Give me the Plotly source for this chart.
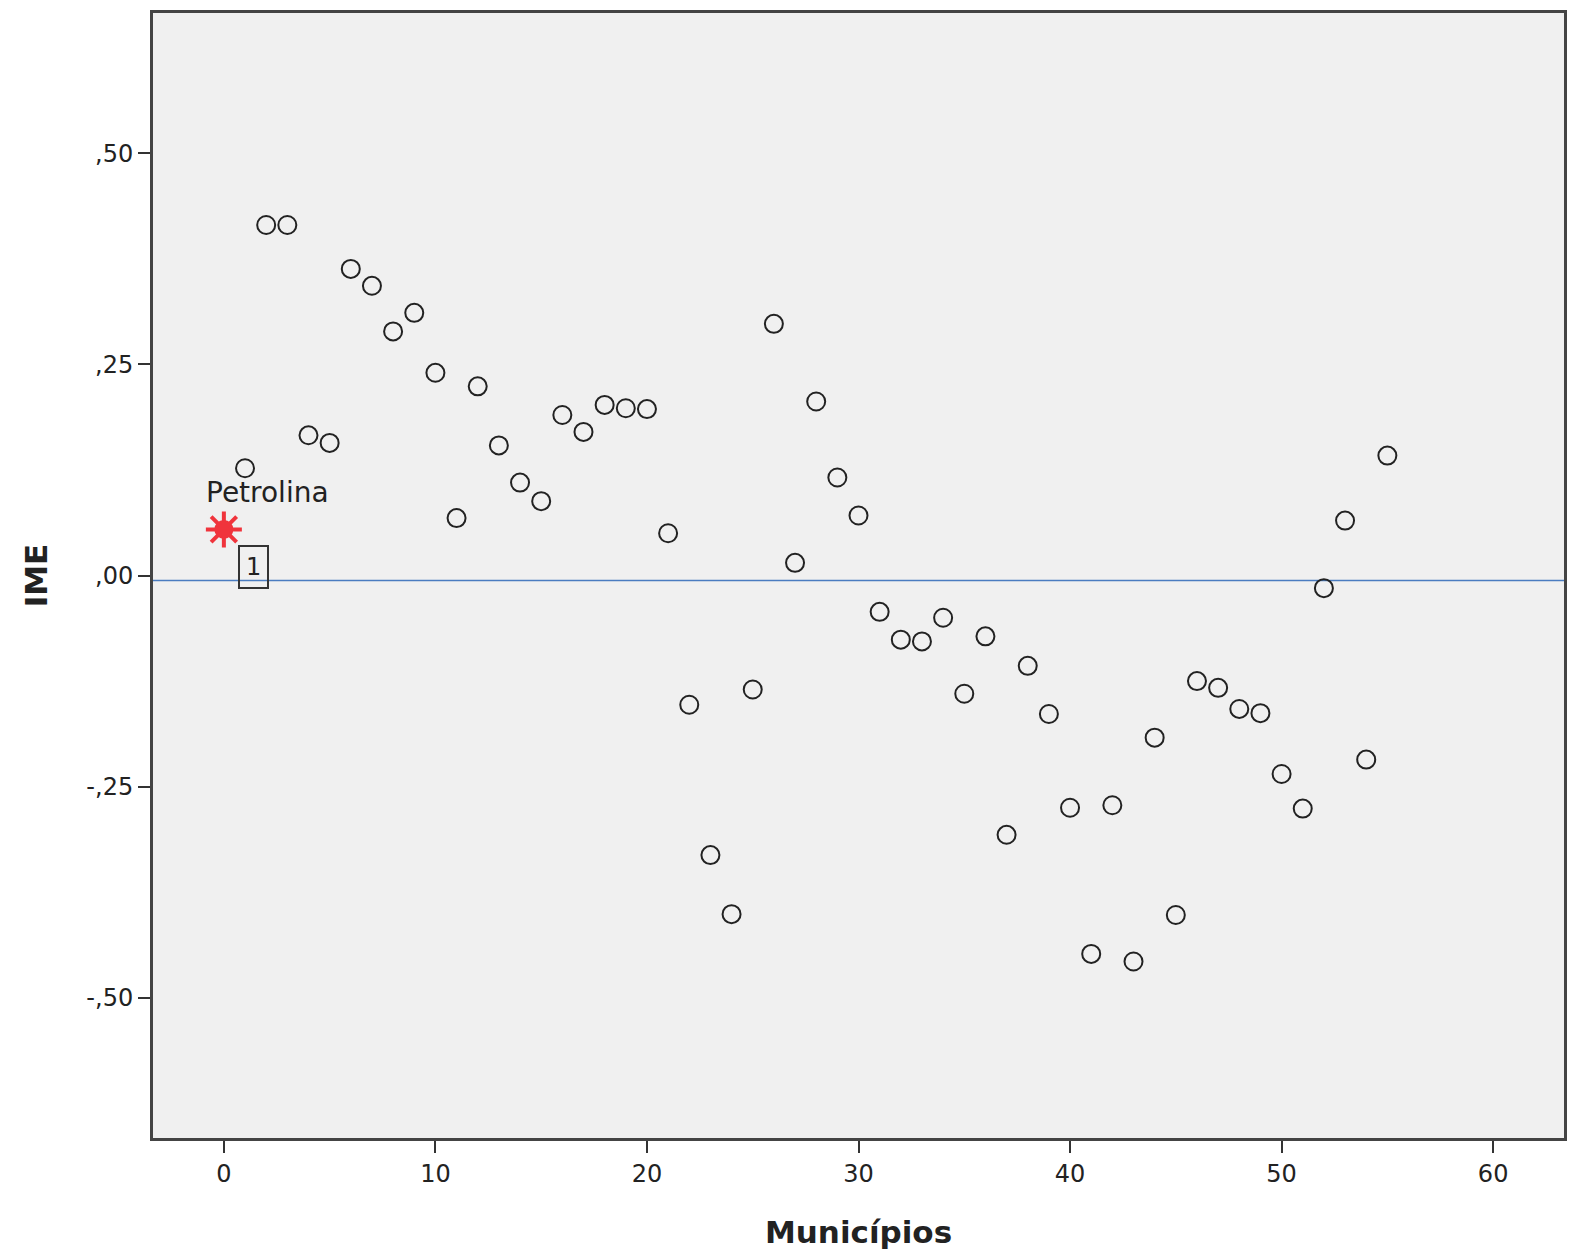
import plotly.graph_objects as go

# Data
municipio_idx = list(range(1, 56))
ime_values = [0.127, 0.415, 0.415, 0.166, 0.157, 0.363, 0.343, 0.289, 0.311, 0.240,
              0.068, 0.224, 0.154, 0.110, 0.088, 0.190, 0.170, 0.202, 0.198, 0.197,
              0.050, -0.153, -0.331, -0.401, -0.135, 0.298, 0.015, 0.206, 0.116, 0.071,
              -0.043, -0.076, -0.078, -0.050, -0.140, -0.072, -0.307, -0.107, -0.164, -0.275,
              -0.448, -0.272, -0.457, -0.192, -0.402, -0.125, -0.133, -0.158, -0.163, -0.235,
              -0.276, -0.015, 0.065, -0.218, 0.142]
petrolina_x = [0]
petrolina_y = [0.0546]
ref_line = -0.006
y_tickvals = [0.5, 0.25, 0.0, -0.25, -0.5]
y_ticktext = [",50", ",25", ",00", "-,25", "-,50"]
x_tickvals = [0, 10, 20, 30, 40, 50, 60]

FONT = "DejaVu Sans"

fig = go.Figure()
fig.add_trace(go.Scatter(
    x=[-10, 70], y=[ref_line, ref_line], mode="lines",
    line=dict(color="#4a7cc0", width=1.5), hoverinfo="skip", showlegend=False))
fig.add_trace(go.Scatter(
    x=municipio_idx, y=ime_values, mode="markers",
    marker=dict(symbol="circle-open", size=18, color="#222222", line=dict(width=2, color="#222222")),
    showlegend=False))
fig.add_trace(go.Scatter(
    x=petrolina_x, y=petrolina_y, mode="markers",
    marker=dict(symbol="circle", size=19, color="#f0343c", line=dict(width=0)),
    showlegend=False))
fig.add_trace(go.Scatter(
    x=petrolina_x, y=petrolina_y, mode="markers",
    marker=dict(symbol="asterisk-open", size=30, color="#f0343c", line=dict(width=4, color="#f0343c")),
    showlegend=False))

fig.add_annotation(x=2.08, y=0.098, text="Petrolina", showarrow=False,
                   font=dict(family=FONT, size=28, color="#222222"))
fig.add_annotation(x=1.42, y=0.0095, text="1", showarrow=False,
                   font=dict(family=FONT, size=24, color="#222222"),
                   bordercolor="#333333", borderwidth=2, borderpad=6, bgcolor="rgba(0,0,0,0)")

fig.update_layout(
    width=1567, height=1245,
    margin=dict(l=145, r=11, t=2, b=115),
    paper_bgcolor="white", plot_bgcolor="#f0f0f0",
    font=dict(family=FONT, color="#222222"),
    xaxis=dict(range=[-3.35, 63.35], tickvals=x_tickvals, ticks="outside", ticklen=12, tickwidth=2,
               tickcolor="#333333", showgrid=False, zeroline=False, showline=True, mirror=True,
               linecolor="#444444", linewidth=3, tickfont=dict(size=24, family=FONT),
               title=dict(text="<b>Municípios</b>", font=dict(size=31, family=FONT), standoff=35)),
    yaxis=dict(range=[-0.666, 0.666], tickvals=y_tickvals, ticktext=y_ticktext, ticks="outside",
               ticklen=12, tickwidth=2, tickcolor="#333333", showgrid=False, zeroline=False,
               showline=True, mirror=True, linecolor="#444444", linewidth=3,
               tickfont=dict(size=24, family=FONT),
               title=dict(text="<b>IME</b>", font=dict(size=31, family=FONT), standoff=30)),
)

fig.write_html("out.html")
